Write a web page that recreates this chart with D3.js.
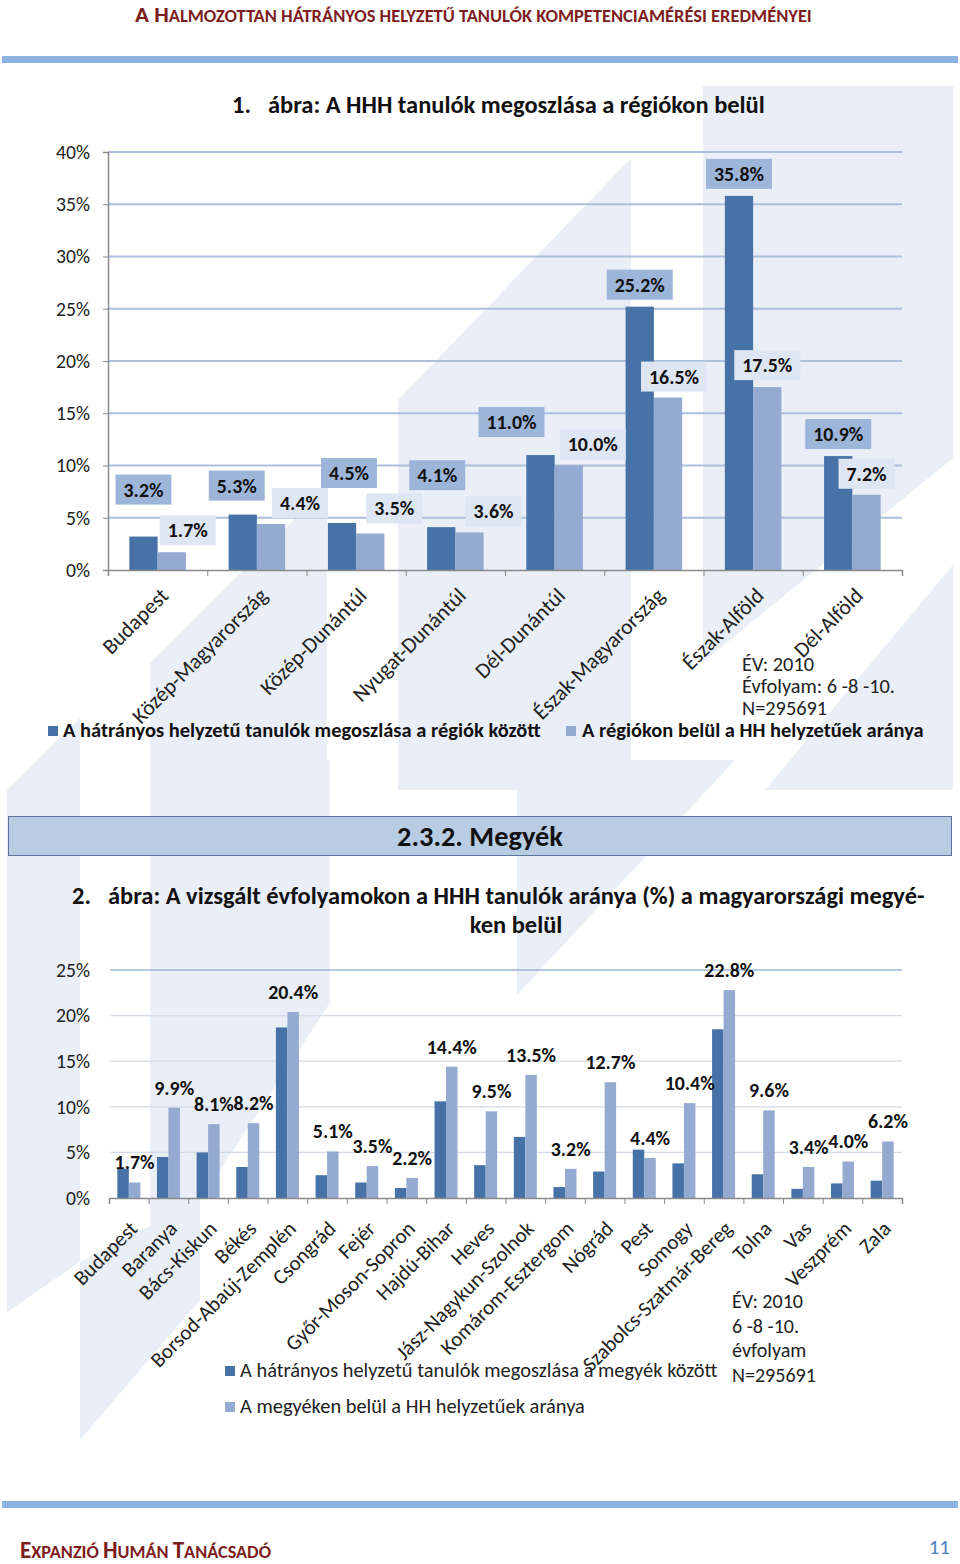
<!DOCTYPE html>
<html><head><meta charset="utf-8">
<script src="https://cdn.jsdelivr.net/npm/d3@7"></script>
<style>
body{margin:0;background:#fff;}
svg{display:block;}
</style></head><body>
<svg id="page" width="960" height="1564"></svg>
<script>
// ---------- DATA ----------
const regions = ["Budapest","Közép-Magyarország","Közép-Dunántúl","Nyugat-Dunántúl","Dél-Dunántúl","Észak-Magyarország","Észak-Alföld","Dél-Alföld"];
const regionShare = [3.2,5.3,4.5,4.1,11.0,25.2,35.8,10.9];   // A hátrányos helyzetű tanulók megoszlása a régiók között
const regionRate  = [1.7,4.4,3.5,3.6,10.0,16.5,17.5,7.2];    // A régiókon belül a HH helyzetűek aránya
const regionTicks = [0,5,10,15,20,25,30,35,40];
const regionSeries = ["A hátrányos helyzetű tanulók megoszlása a régiók között","A régiókon belül a HH helyzetűek aránya"];
const regionNotes = ["ÉV: 2010","Évfolyam: 6 -8 -10.","N=295691"];

const counties = ["Budapest","Baranya","Bács-Kiskun","Békés","Borsod-Abaúj-Zemplén","Csongrád","Fejér","Győr-Moson-Sopron","Hajdú-Bihar","Heves","Jász-Nagykun-Szolnok","Komárom-Esztergom","Nógrád","Pest","Somogy","Szabolcs-Szatmár-Bereg","Tolna","Vas","Veszprém","Zala"];
const countyShare = [3.2,4.5,5.0,3.4,18.7,2.5,1.7,1.1,10.6,3.6,6.7,1.2,2.9,5.3,3.8,18.5,2.6,1.0,1.6,1.9];
const countyRate  = [1.7,9.9,8.1,8.2,20.4,5.1,3.5,2.2,14.4,9.5,13.5,3.2,12.7,4.4,10.4,22.8,9.6,3.4,4.0,6.2];
const countyTicks = [0,5,10,15,20,25];
const countySeries = ["A hátrányos helyzetű tanulók megoszlása a megyék között","A megyéken belül a HH helyzetűek aránya"];
const countyNotes = ["ÉV: 2010","6 -8 -10.","évfolyam","N=295691"];

// ---------- STYLE / LAYOUT ----------
const FONT = "Carlito, Calibri, Lato, 'Open Sans', sans-serif";
const C_DARK = "#4672a7", C_LIGHT = "#95aad1";
const C_BOX_DARK = "#9db5d9", C_BOX_LIGHT = "#dde6f2";
const C_RED = "#7e1d1d";
const C_DECOR = "#e9eef7";
// manual label nudges (Excel-style hand-placed labels), [dx, dy]
const lab1DarkNudge  = [[0,-26],[-6,-8],[7,-29],[-4,-31],[-29,-12],[0,-1],[0,-1],[0,-1]];
const lab1LightNudge = [[16,-1],[29,0],[24,-4],[24,0],[24,0],[6,0],[0,-1],[0,0]];
// background watermark shapes
const decor = [
  [[703,86],[953,86],[953,458],[703,662]],
  [[953,565],[953,790],[765,790]],
  [[398,400],[631,158],[631,790],[398,790]],
  [[150,663],[327,487],[327,790],[150,790]],
  [[7,790],[80,718],[80,1262],[7,1312]],
  [[150,760],[330,760],[330,1003],[200,1200],[150,1250]],
  [[517,760],[735,760],[517,995]],
  [[80,1262],[200,1200],[200,1300],[80,1440]]
];

const svg = d3.select("#page").attr("font-family", FONT);

function measure(text, size, weight){
  const t = svg.append("text").attr("font-size",size).attr("font-weight",weight||"normal").text(text);
  const w = t.node().getComputedTextLength(); t.remove(); return w;
}
function sizeFor(text, weight, target){ return 100*target/measure(text,100,weight); }

// background
svg.append("g").selectAll("polygon").data(decor).join("polygon")
  .attr("points", d => d.map(p=>p.join(",")).join(" ")).attr("fill", C_DECOR);

// header & footer rules
svg.append("rect").attr("x",2).attr("y",56).attr("width",956).attr("height",7).attr("fill","#8db3e2");
svg.append("rect").attr("x",2).attr("y",1501).attr("width",956).attr("height",7).attr("fill","#8db3e2");

// header small caps
(function(){
  const rest = "ALMOZOTTAN HÁTRÁNYOS HELYZETŰ TANULÓK KOMPETENCIAMÉRÉSI EREDMÉNYEI";
  const t = svg.append("text").attr("x",135).attr("y",22).attr("fill",C_RED).attr("font-weight","bold");
  const a = t.append("tspan").attr("font-size",16).text("A");
  const s1 = t.append("tspan").attr("font-size",16).text(" H");
  const b = t.append("tspan").attr("font-size",12.8).text(rest);
  const w = t.node().getComputedTextLength();
  const k = 677/w;
  a.attr("font-size",16*k); s1.attr("font-size",16*k); b.attr("font-size",12.8*k);
})();
(function(){
  const t = svg.append("text").attr("x",20).attr("y",1558).attr("fill",C_RED).attr("font-weight","bold");
  const parts = [["E",1],["XPANZIÓ ",0],["H",1],["UMÁN ",0],["T",1],["ANÁCSADÓ",0]];
  const sp = parts.map(p => t.append("tspan").attr("font-size", p[1]?19:15).text(p[0]));
  const k = 251/t.node().getComputedTextLength();
  sp.forEach((s,i)=> s.attr("font-size",(parts[i][1]?19:15)*k));
})();
svg.append("text").attr("x",950).attr("y",1554).attr("text-anchor","end").attr("fill","#4f81bd")
  .attr("font-size",21).text("11");

// ---------- CHART 1 ----------
{
  const titleRest = "ábra: A HHH tanulók megoszlása a régiókon belül";
  const ts = sizeFor(titleRest,"bold",497);
  svg.append("text").attr("x",232).attr("y",113).attr("font-size",ts).attr("font-weight","bold").attr("fill","#111").text("1.");
  svg.append("text").attr("x",268).attr("y",113).attr("font-size",ts).attr("font-weight","bold").attr("fill","#111").text(titleRest);

  const x = d3.scaleBand().domain(regions).range([108,902]);
  const y = d3.scaleLinear().domain([0,40]).range([570,152]);
  const bw = x.bandwidth()*0.285;
  const g = svg.append("g");

  g.selectAll("line.grid").data(regionTicks.filter(d=>d>0)).join("line")
    .attr("x1",108).attr("x2",902).attr("y1",d=>y(d)).attr("y2",d=>y(d))
    .attr("stroke","#adbfdc").attr("stroke-width",2);

  const tickFs = sizeFor("40%","normal",34);
  const ya = g.append("g").attr("transform","translate(108,0)")
    .call(d3.axisLeft(y).tickValues(regionTicks).tickFormat(d=>d+"%").tickSize(5).tickPadding(13));
  ya.select(".domain").attr("stroke","#8a8a8a").attr("stroke-width",1.5);
  ya.selectAll(".tick line").attr("stroke","#8a8a8a");
  ya.selectAll(".tick text").attr("font-size",tickFs).attr("font-family",FONT).attr("fill","#222");

  g.selectAll("rect.d").data(regions).join("rect")
    .attr("x",d=>x(d)+x.bandwidth()/2-bw).attr("width",bw)
    .attr("y",(d,i)=>y(regionShare[i])).attr("height",(d,i)=>y(0)-y(regionShare[i])).attr("fill",C_DARK);
  g.selectAll("rect.l").data(regions).join("rect")
    .attr("x",d=>x(d)+x.bandwidth()/2).attr("width",bw)
    .attr("y",(d,i)=>y(regionRate[i])).attr("height",(d,i)=>y(0)-y(regionRate[i])).attr("fill",C_LIGHT);

  const xl = d3.scaleLinear().domain([0,regions.length]).range([108,902]);
  const xa = g.append("g").attr("transform","translate(0,570)")
    .call(d3.axisBottom(xl).ticks(regions.length).tickFormat("").tickSize(6).tickSizeOuter(6));
  xa.select(".domain").attr("stroke","#8a8a8a").attr("stroke-width",1.5);
  xa.selectAll(".tick line").attr("stroke","#8a8a8a");

  const catFs = sizeFor("Közép-Magyarország","normal",181);
  g.selectAll("text.cat").data(regions).join("text")
    .attr("transform",d=>`translate(${x(d)+x.bandwidth()/2+12},597) rotate(-45)`)
    .attr("text-anchor","end").attr("font-size",catFs).attr("fill","#222").text(d=>d);

  const labFs = sizeFor("35.8%","bold",50);
  function boxLabel(val, cx, cy, fill){
    const txt = val.toFixed(1)+"%";
    const w = measure(txt,labFs,"bold")+16, h = 30;
    g.append("rect").attr("x",cx-w/2).attr("y",cy-h/2).attr("width",w).attr("height",h).attr("fill",fill);
    g.append("text").attr("x",cx).attr("y",cy).attr("dy","0.35em").attr("text-anchor","middle")
      .attr("font-size",labFs).attr("font-weight","bold").attr("fill","#111").text(txt);
  }
  regions.forEach((r,i)=>{
    const cx = x(r)+x.bandwidth()/2-bw/2;
    boxLabel(regionShare[i], cx+lab1DarkNudge[i][0], y(regionShare[i])-21+lab1DarkNudge[i][1], C_BOX_DARK);
  });
  regions.forEach((r,i)=>{
    const cx = x(r)+x.bandwidth()/2+bw/2;
    boxLabel(regionRate[i], cx+lab1LightNudge[i][0], y(regionRate[i])-21+lab1LightNudge[i][1], C_BOX_LIGHT);
  });

  const lf1 = sizeFor(regionSeries[0],"bold",478);
  g.append("rect").attr("x",48).attr("y",726).attr("width",10).attr("height",10).attr("fill",C_DARK);
  g.append("text").attr("x",63).attr("y",737).attr("font-size",lf1).attr("font-weight","bold").attr("fill","#111").text(regionSeries[0]);
  g.append("rect").attr("x",566).attr("y",726).attr("width",10).attr("height",10).attr("fill",C_LIGHT);
  g.append("text").attr("x",582).attr("y",737).attr("font-size",lf1).attr("font-weight","bold").attr("fill","#111").text(regionSeries[1]);

  const nf = sizeFor(regionNotes[1],"normal",153);
  g.selectAll("text.note").data(regionNotes).join("text")
    .attr("x",742).attr("y",(d,i)=>671+i*22).attr("font-size",nf).attr("fill","#222").text(d=>d);
}

// ---------- SECTION HEADING ----------
svg.append("rect").attr("x",8.5).attr("y",816.5).attr("width",943).attr("height",39)
  .attr("fill","#b8cce4").attr("stroke","#5a7599").attr("stroke-width",1);
svg.append("text").attr("x",480).attr("y",846).attr("text-anchor","middle").attr("font-weight","bold")
  .attr("font-size",sizeFor("2.3.2. Megyék","bold",166)).attr("fill","#111").text("2.3.2. Megyék");

// ---------- CHART 2 ----------
{
  const l1 = "ábra: A vizsgált évfolyamokon a HHH tanulók aránya (%) a magyarországi megyé-";
  const ts = sizeFor(l1,"bold",817);
  svg.append("text").attr("x",72).attr("y",904).attr("font-size",ts).attr("font-weight","bold").attr("fill","#111").text("2.");
  svg.append("text").attr("x",108).attr("y",904).attr("font-size",ts).attr("font-weight","bold").attr("fill","#111").text(l1);
  svg.append("text").attr("x",516).attr("y",933).attr("text-anchor","middle").attr("font-size",ts).attr("font-weight","bold").attr("fill","#111").text("ken belül");

  const x = d3.scaleBand().domain(counties).range([109,902]);
  const y = d3.scaleLinear().domain([0,25]).range([1198,970]);
  const bw = x.bandwidth()*0.29;
  const g = svg.append("g");

  g.selectAll("line.grid").data(countyTicks.filter(d=>d>0)).join("line")
    .attr("x1",110).attr("x2",902).attr("y1",d=>y(d)).attr("y2",d=>y(d))
    .attr("stroke",d=>d===25?"#9bb4da":"#d3dbe8").attr("stroke-width",1.3);

  const tickFs = sizeFor("25%","normal",34);
  const ya = g.append("g").attr("transform","translate(109,0)")
    .call(d3.axisLeft(y).tickValues(countyTicks).tickFormat(d=>d+"%").tickSize(0).tickPadding(19));
  ya.select(".domain").remove();
  ya.selectAll(".tick text").attr("font-size",tickFs).attr("font-family",FONT).attr("fill","#222");

  g.selectAll("rect.d").data(counties).join("rect")
    .attr("x",d=>x(d)+x.bandwidth()/2-bw).attr("width",bw)
    .attr("y",(d,i)=>y(countyShare[i])).attr("height",(d,i)=>y(0)-y(countyShare[i])).attr("fill",C_DARK);
  g.selectAll("rect.l").data(counties).join("rect")
    .attr("x",d=>x(d)+x.bandwidth()/2).attr("width",bw)
    .attr("y",(d,i)=>y(countyRate[i])).attr("height",(d,i)=>y(0)-y(countyRate[i])).attr("fill",C_LIGHT);

  const xl = d3.scaleLinear().domain([0,counties.length]).range([109,902]);
  const xa = g.append("g").attr("transform","translate(0,1198)")
    .call(d3.axisBottom(xl).ticks(counties.length).tickFormat("").tickSize(6).tickSizeOuter(6));
  xa.select(".domain").attr("stroke","#8a8a8a").attr("stroke-width",1.5);
  xa.selectAll(".tick line").attr("stroke","#8a8a8a");

  const catFs = sizeFor("Borsod-Abaúj-Zemplén","normal",196);
  g.selectAll("text.cat").data(counties).join("text")
    .attr("transform",d=>`translate(${x(d)+x.bandwidth()/2+10},1230) rotate(-45)`)
    .attr("text-anchor","end").attr("font-size",catFs).attr("fill","#222").text(d=>d);

  const labFs = sizeFor("20.4%","bold",50);
  g.selectAll("text.lab").data(counties).join("text")
    .attr("x",d=>x(d)+x.bandwidth()/2+bw/2)
    .attr("y",(d,i)=>y(countyRate[i])-20).attr("dy","0.35em").attr("text-anchor","middle")
    .attr("font-size",labFs).attr("font-weight","bold").attr("fill","#111")
    .text((d,i)=>countyRate[i].toFixed(1)+"%");

  const lf = sizeFor(countySeries[0],"normal",478);
  g.append("rect").attr("x",225).attr("y",1366).attr("width",10).attr("height",10).attr("fill",C_DARK);
  g.append("text").attr("x",240).attr("y",1377).attr("font-size",lf).attr("fill","#222").text(countySeries[0]);
  g.append("rect").attr("x",225).attr("y",1402).attr("width",10).attr("height",10).attr("fill",C_LIGHT);
  g.append("text").attr("x",240).attr("y",1413).attr("font-size",lf).attr("fill","#222").text(countySeries[1]);

  const nf = sizeFor("N=295691","normal",84);
  g.selectAll("text.note").data(countyNotes).join("text")
    .attr("x",732).attr("y",(d,i)=>1308+i*24.5).attr("font-size",nf).attr("fill","#222").text(d=>d);
}
</script>
</body></html>
